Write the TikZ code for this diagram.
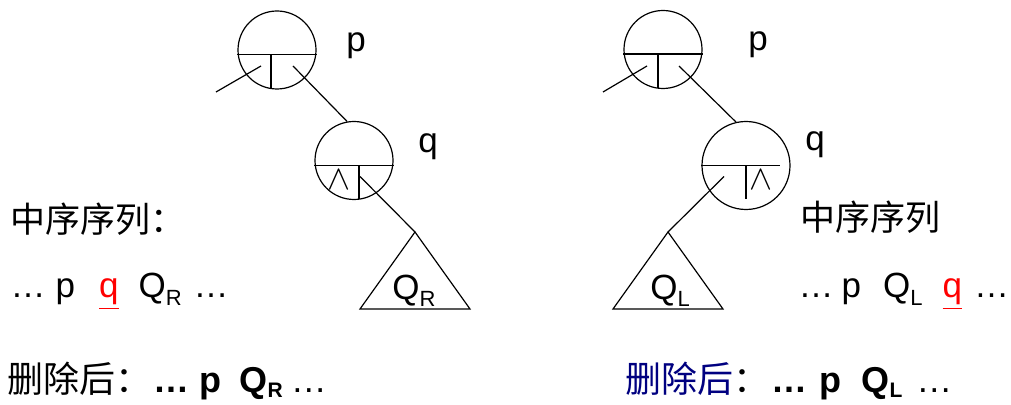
\documentclass[tikz,border=0pt]{standalone}
\usepackage{fontspec}
\setmainfont{Liberation Sans}
\newfontfamily\cjk{Noto Sans CJK SC}
\usepackage{xcolor}
\definecolor{delNavy}{HTML}{000080}
\definecolor{seqRed}{HTML}{FF0000}
\usetikzlibrary{calc}
\newcommand{\subidx}[1]{\raisebox{-0.4ex}{\fontsize{11}{11}\selectfont #1}}
\newcommand{\botsub}[1]{\raisebox{-0.25ex}{\fontsize{10.5}{11}\selectfont #1}}

\begin{document}
\begin{tikzpicture}[x=0.5pt, y=-0.5pt, line width=0.6pt,
    bnode/.style={draw, circle, inner sep=0pt, minimum size=#1},
    bnode/.default=39pt,
    lbl/.style={font=\fontsize{17.5}{20}\selectfont, inner sep=0pt},
    nil/.style={font=\fontsize{17}{17}\selectfont, inner sep=0pt}]
  \useasboundingbox (0,0) rectangle (1011,405);
  % ---- panel: q has no left child ----
  \begin{scope}
    \node[bnode] (pL) at (277,50) {};
    \node[bnode] (qL) at (354,160.5) {};
    \draw ($(pL.west)+(0,4.5)$) -- ($(pL.east)+(0,4.5)$);
    \draw ($(pL.center)+(-6,4.5)$) -- ++(0,34);
    \draw ($(qL.west)+(0,5)$) -- ($(qL.east)+(0,5)$);
    \draw ($(qL.center)+(5,5)$) -- ++(0,33.5);
    \node[nil] (nilL) at ($(qL.center)+(-15,19)$) {$\wedge$};
    \node[lbl] (pLabL) at (356,46) {p};
    \node[lbl] (qLabL) at (428,147) {q};
    % pointers
    \coordinate (upL) at (216,92);
    \coordinate (QRtop) at (415,232);
    \draw ($(pL.center)+(-16,16)$) -- (upL);
    \draw ($(pL.center)+(16,16)$) -- (qL.100);
    \draw ($(qL.center)+(6,16)$) -- (QRtop);
    % subtree Q_R
    \draw (QRtop) -- ++(-55,77) -- ++(110,0) -- cycle;
    \node[lbl] (QRlab) at (414,291) {Q\subidx{R}};
    % texts
    \node[lbl, anchor=base west] (seqL) at (10,233) {\cjk 中序序列：};
    \node[lbl, anchor=base west] (ordL) at (10,298)
      {…\hspace{5pt}p\hspace{12pt}\textcolor{seqRed}{\underline{q}}\hspace{10pt}Q\subidx{R}\hspace{6pt}…};
    \node[lbl, font=\fontsize{18}{20}\selectfont, anchor=base west] (delL) at (7,393)
      {{\cjk 删除后：}\textbf{\hspace{1pt}…\hspace{5pt}p\hspace{9pt}Q\botsub{R}}\hspace{4pt}…};
  \end{scope}
  % ---- panel: q has no right child ----
  \begin{scope}
    \node[bnode] (pR) at (663,49.5) {};
    \node[bnode=44pt] (qR) at (746,165.5) {};
    \draw ($(pR.west)+(0,4.5)$) -- ($(pR.east)+(0,4.5)$);
    \draw ($(pR.center)+(-5,4.5)$) -- ++(0,34);
    \draw (qR.west) -- ($(qR.center)+(34,0)$);
    \draw (qR.center) -- ++(0,34);
    \node[nil] (nilR) at ($(qR.center)+(15,14.5)$) {$\wedge$};
    \node[lbl] (pLabR) at (758,45) {p};
    \node[lbl] (qLabR) at (815,145) {q};
    % pointers
    \coordinate (upR) at (603,92);
    \coordinate (QLtop) at (668,232);
    \draw ($(pR.center)+(-16,16.5)$) -- (upR);
    \draw ($(pR.center)+(16,16.5)$) -- (qR.103);
    \draw ($(qR.center)+(-22,11)$) -- (QLtop);
    % subtree Q_L
    \draw (QLtop) -- ++(-55,77) -- ++(110,0) -- cycle;
    \node[lbl] (QLlab) at (670,291) {Q\subidx{L}};
    % texts
    \node[lbl, anchor=base west] (seqR) at (800,231) {\cjk 中序序列};
    \node[lbl, anchor=base west] (ordR) at (798,298)
      {…\hspace{4pt}p\hspace{11pt}Q\subidx{L}\hspace{10pt}\textcolor{seqRed}{\underline{q}}\hspace{6pt}…};
    \node[lbl, font=\fontsize{18}{20}\selectfont, anchor=base west] (delR) at (625,393)
      {{\cjk\color{delNavy}删除后}{\cjk ：}\textbf{\hspace{1pt}…\hspace{6pt}p\hspace{10pt}Q\botsub{L}}\hspace{7pt}…};
  \end{scope}
\end{tikzpicture}
\end{document}
